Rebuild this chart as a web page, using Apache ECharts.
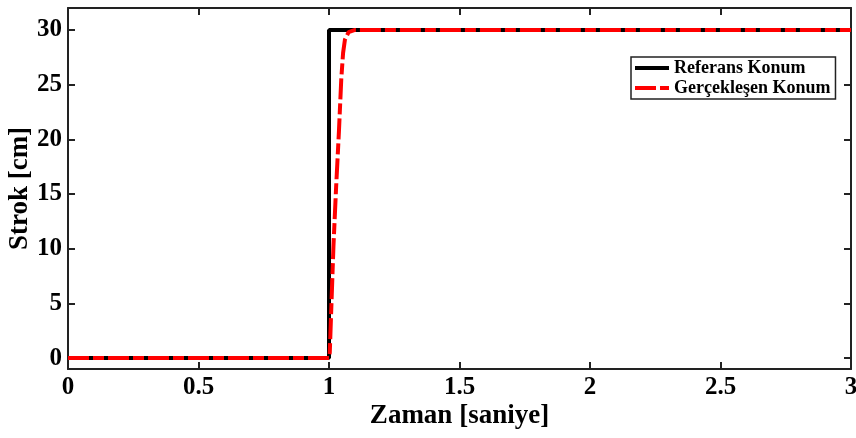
<!DOCTYPE html>
<html>
<head>
<meta charset="utf-8">
<script src="https://cdn.jsdelivr.net/npm/echarts@6/dist/echarts.min.js"></script>
<style>html,body{margin:0;padding:0;background:#fff}#c{width:856px;height:438px}</style>
</head>
<body>
<div id="c"></div>
<script>
// Data
const seriesNames = ['Referans Konum', 'Gerçekleşen Konum'];
const referansT = [0, 1, 1, 3];
const referansY = [0, 0, 30, 30];
const gercekT = [0, 1.0, 1.003, 1.008, 1.017, 1.027, 1.038, 1.047, 1.054, 1.061, 1.075, 1.1, 3];
const gercekY = [0, 0, 0.5, 4, 10.2, 15.5, 20.7, 25.5, 27.9, 29.1, 29.8, 30, 30];
const yTicks = [0, 5, 10, 15, 20, 25, 30];
const xTicks = [0, 0.5, 1, 1.5, 2, 2.5, 3];

const font = 'Liberation Serif';
const axisColor = '#222';
const pair = (t, y) => t.map((v, i) => [v, y[i]]);

const chart = echarts.init(document.getElementById('c'));
const xBase = {
  type: 'value', min: 0, max: 3, interval: 0.5,
  axisLine: { show: true, onZero: false, lineStyle: { color: axisColor, width: 2 } },
  axisTick: { show: true, inside: true, length: 7, lineStyle: { color: axisColor, width: 2 } },
  splitLine: { show: false }
};
const yBase = {
  type: 'value', min: -1, max: 32,
  axisLine: { show: true, onZero: false, lineStyle: { color: axisColor, width: 2 } },
  axisTick: { show: true, inside: true, length: 7, customValues: yTicks, lineStyle: { color: axisColor, width: 2 } },
  splitLine: { show: false }
};
chart.setOption({
  animation: false,
  backgroundColor: '#fff',
  grid: { left: 68, right: 5, top: 8, bottom: 69, containLabel: false, outerBoundsMode: 'none' },
  xAxis: [
    Object.assign({}, xBase, {
      position: 'bottom',
      name: 'Zaman [saniye]', nameLocation: 'middle', nameGap: 34, nameMoveOverlap: false,
      nameTextStyle: { fontFamily: font, fontWeight: 'bold', fontSize: 27, color: '#000' },
      axisLabel: { show: true, margin: 6, fontFamily: font, fontWeight: 'bold', fontSize: 25, color: '#000' }
    }),
    Object.assign({}, xBase, { position: 'top', axisLabel: { show: false } })
  ],
  yAxis: [
    Object.assign({}, yBase, {
      position: 'left',
      name: 'Strok [cm]', nameLocation: 'middle', nameGap: 34, nameRotate: 90, nameMoveOverlap: false,
      nameTextStyle: { fontFamily: font, fontWeight: 'bold', fontSize: 27, color: '#000' },
      axisLabel: { show: true, margin: 6, customValues: yTicks, fontFamily: font, fontWeight: 'bold', fontSize: 25, color: '#000' }
    }),
    Object.assign({}, yBase, { position: 'right', axisLabel: { show: false } })
  ],
  legend: {
    orient: 'vertical', left: 631, top: 57,
    data: seriesNames,
    itemWidth: 34, itemHeight: 12, itemGap: 2, itemTextGap: 1,
    padding: [2, 5, 2, 2],
    itemStyle: { opacity: 0, borderWidth: 0 },
    lineStyle: { width: 4 },
    backgroundColor: '#fff', borderColor: '#222', borderWidth: 1.5, borderRadius: 0,
    textStyle: { fontFamily: font, fontWeight: 'bold', fontSize: 18, color: '#000' }
  },
  series: [
    {
      name: seriesNames[0], type: 'line', xAxisIndex: 0, yAxisIndex: 0,
      data: pair(referansT, referansY), symbol: 'none',
      lineStyle: { color: '#000', width: 4 }, itemStyle: { color: '#000' }, z: 2
    },
    {
      name: seriesNames[1], type: 'line', xAxisIndex: 0, yAxisIndex: 0,
      data: pair(gercekT, gercekY), symbol: 'none', smooth: false,
      lineStyle: { color: '#ff0000', width: 4, type: [21, 4, 11, 4] }, itemStyle: { color: '#ff0000' }, z: 3
    }
  ]
});
</script>
</body>
</html>
